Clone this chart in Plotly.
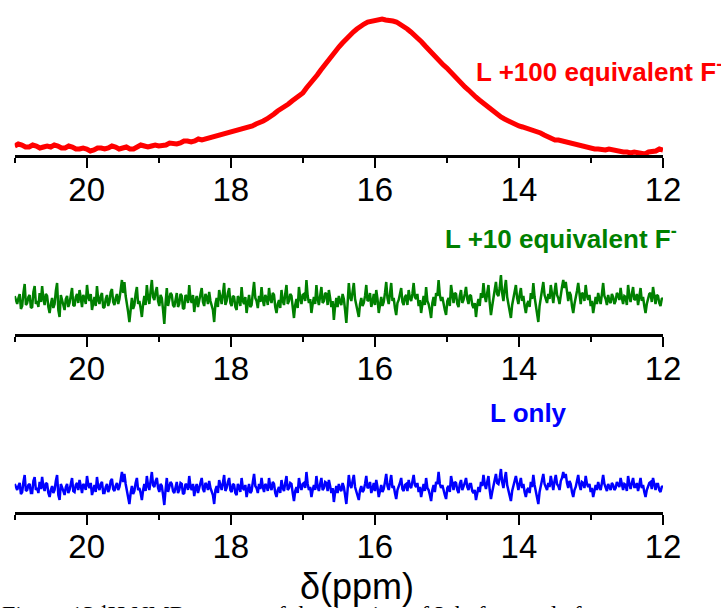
import numpy as np
import plotly.graph_objects as go

W, H = 721, 608

# ---------------- data ----------------
# L + 100 equiv F- : intensity sampled every 0.05 ppm from 21.0 down to 12.0
red_ppm = np.round(np.linspace(21.0, 12.0, 181), 3)
red_int = [9, 11, 10, 8, 8, 10, 9, 7, 8, 9, 8, 10, 9, 7, 7, 9, 8, 6, 6, 7,
           6, 4, 5, 7, 7, 6, 7, 9, 8, 6, 7, 8, 6, 6, 8, 10, 9, 8, 9, 10,
           9, 9, 10, 12, 11, 11, 12, 14, 14, 13, 14, 16, 15, 16, 17, 18, 18, 20, 20, 21,
           22, 24, 24, 25, 27, 28, 29, 31, 32, 34, 36, 38, 41, 44, 46, 49, 51, 54, 57, 59,
           62, 67, 71, 76, 80, 85, 90, 95, 99, 104, 108, 112, 116, 120, 123, 126, 129, 131, 133, 134,
           135, 136, 136, 135, 135, 134, 133, 131, 129, 126, 123, 120, 117, 113, 109, 105, 101, 97, 94, 90,
           87, 83, 79, 76, 72, 68, 65, 61, 58, 55, 52, 49, 46, 43, 41, 38, 36, 34, 32, 30,
           29, 28, 27, 26, 25, 24, 22, 20, 18, 16, 15, 15, 14, 14, 13, 12, 11, 10, 8, 7,
           6, 6, 6, 5, 5, 6, 5, 4, 4, 3, 3, 2, 3, 2, 2, 1, 3, 3, 4, 6,
           5]

# L + 10 equiv F- : noise-only spectrum (521 points from 21 to 12 ppm)
green_int = [38, 33, 30, 36, 40, 25, 28, 41, 50, 29, 31, 37, 39, 26, 27, 42, 48, 30, 33, 27,
             41, 32, 48, 35, 29, 40, 38, 27, 21, 30, 36, 26, 30, 43, 51, 24, 17, 39, 35, 29,
             24, 35, 38, 27, 31, 40, 46, 29, 28, 37, 40, 31, 44, 36, 27, 39, 36, 30, 49, 37,
             33, 40, 24, 31, 37, 28, 48, 34, 30, 38, 41, 26, 27, 35, 39, 28, 32, 42, 45, 32,
             29, 36, 40, 30, 35, 44, 54, 41, 52, 38, 31, 22, 12, 27, 36, 25, 29, 40, 47, 30,
             33, 26, 17, 30, 38, 29, 49, 36, 30, 43, 54, 37, 34, 42, 47, 33, 28, 39, 36, 24,
             10, 31, 46, 28, 34, 41, 39, 29, 27, 36, 41, 27, 30, 40, 38, 25, 26, 39, 37, 31,
             49, 35, 31, 39, 22, 33, 38, 27, 33, 40, 46, 32, 28, 40, 37, 30, 42, 33, 29, 24,
             12, 30, 36, 27, 44, 35, 30, 40, 51, 29, 33, 41, 46, 31, 28, 38, 37, 27, 24, 38,
             35, 28, 47, 33, 30, 37, 21, 31, 39, 27, 29, 41, 52, 36, 33, 26, 38, 32, 47, 34,
             28, 39, 36, 29, 46, 35, 31, 41, 39, 27, 21, 30, 34, 26, 44, 33, 29, 40, 49, 30,
             33, 40, 38, 27, 16, 29, 35, 26, 47, 36, 30, 39, 40, 33, 54, 38, 31, 35, 21, 30,
             37, 30, 49, 35, 29, 38, 47, 31, 33, 41, 40, 29, 44, 36, 27, 33, 14, 28, 36, 27,
             38, 32, 29, 40, 35, 24, 11, 30, 51, 37, 33, 42, 51, 35, 28, 22, 17, 30, 36, 28,
             31, 38, 49, 33, 34, 41, 27, 32, 40, 29, 44, 35, 21, 29, 37, 28, 32, 41, 52, 36,
             30, 40, 51, 33, 36, 26, 19, 31, 34, 40, 46, 32, 29, 37, 39, 29, 44, 36, 33, 40,
             51, 37, 35, 40, 28, 34, 21, 30, 38, 29, 47, 33, 30, 24, 16, 31, 37, 28, 41, 38,
             54, 39, 33, 37, 28, 24, 19, 33, 36, 28, 49, 37, 31, 41, 40, 30, 27, 38, 44, 31,
             34, 40, 47, 35, 30, 39, 38, 29, 26, 31, 17, 29, 35, 28, 41, 36, 51, 38, 32, 41,
             49, 31, 19, 28, 36, 42, 52, 40, 38, 46, 59, 41, 33, 45, 54, 37, 31, 23, 16, 29,
             35, 42, 49, 36, 30, 39, 46, 33, 38, 28, 21, 30, 33, 27, 41, 35, 51, 37, 29, 21,
             12, 28, 37, 44, 52, 39, 34, 31, 40, 35, 49, 38, 31, 42, 51, 39, 36, 30, 42, 47,
             54, 46, 52, 40, 33, 42, 39, 28, 21, 30, 35, 43, 51, 37, 30, 41, 40, 33, 49, 38,
             34, 39, 28, 33, 21, 29, 37, 30, 41, 35, 30, 40, 51, 38, 35, 29, 39, 33, 31, 40,
             37, 30, 33, 41, 39, 34, 46, 36, 30, 38, 37, 29, 49, 38, 32, 40, 47, 34, 35, 40,
             29, 37, 46, 33, 37, 28, 21, 30, 34, 40, 41, 32, 47, 36, 30, 39, 38, 31, 28, 35,
             36]

# L only : noise-only spectrum (521 points from 21 to 12 ppm)
blue_int = [28, 24, 22, 26, 29, 18, 20, 30, 37, 21, 22, 27, 28, 19, 19, 31, 35, 22, 24, 19,
            30, 23, 35, 25, 21, 29, 28, 19, 15, 22, 26, 19, 22, 31, 37, 17, 12, 28, 25, 21,
            17, 25, 28, 19, 22, 29, 34, 21, 20, 27, 29, 22, 32, 26, 19, 28, 26, 22, 36, 27,
            24, 29, 17, 22, 27, 20, 35, 25, 22, 28, 30, 19, 19, 25, 28, 20, 23, 31, 33, 23,
            21, 26, 29, 22, 25, 32, 40, 30, 38, 28, 22, 16, 8, 19, 26, 18, 21, 29, 34, 22,
            24, 19, 12, 22, 28, 21, 36, 26, 22, 31, 40, 27, 25, 31, 34, 24, 20, 28, 26, 17,
            7, 22, 34, 20, 25, 30, 28, 21, 19, 26, 30, 19, 22, 29, 28, 18, 19, 28, 27, 22,
            36, 25, 22, 28, 16, 24, 28, 19, 24, 29, 34, 23, 20, 29, 27, 22, 31, 24, 21, 17,
            8, 22, 26, 19, 32, 25, 22, 29, 37, 21, 24, 30, 34, 22, 20, 28, 27, 19, 17, 28,
            25, 20, 34, 24, 22, 27, 15, 22, 28, 19, 21, 30, 38, 26, 24, 19, 28, 23, 34, 25,
            20, 28, 26, 21, 34, 25, 22, 30, 28, 19, 15, 22, 25, 19, 32, 24, 21, 29, 36, 22,
            24, 29, 28, 19, 11, 21, 25, 19, 34, 26, 22, 28, 29, 24, 40, 28, 22, 25, 15, 22,
            27, 22, 36, 25, 21, 28, 34, 22, 24, 30, 29, 21, 32, 26, 19, 24, 10, 20, 26, 19,
            28, 23, 21, 29, 25, 17, 8, 22, 37, 27, 24, 31, 37, 25, 20, 16, 12, 22, 26, 20,
            22, 28, 36, 24, 25, 30, 19, 23, 29, 21, 32, 25, 15, 21, 27, 20, 23, 30, 38, 26,
            22, 29, 37, 24, 26, 19, 13, 22, 25, 29, 34, 23, 21, 27, 28, 21, 32, 26, 24, 29,
            37, 27, 25, 29, 20, 25, 15, 22, 28, 21, 34, 24, 22, 17, 11, 22, 27, 20, 30, 28,
            40, 28, 24, 27, 20, 17, 13, 24, 26, 20, 36, 27, 22, 30, 29, 22, 19, 28, 32, 22,
            25, 29, 34, 25, 22, 28, 28, 21, 19, 22, 12, 21, 25, 20, 30, 26, 37, 28, 23, 30,
            36, 22, 13, 20, 26, 31, 38, 29, 28, 34, 43, 30, 24, 33, 40, 27, 22, 16, 11, 21,
            25, 31, 36, 26, 22, 28, 34, 24, 28, 20, 15, 22, 24, 19, 30, 25, 37, 27, 21, 15,
            8, 20, 27, 32, 38, 28, 25, 22, 29, 25, 36, 28, 22, 31, 37, 28, 26, 22, 31, 34,
            40, 34, 38, 29, 24, 31, 28, 20, 15, 22, 25, 31, 37, 27, 22, 30, 29, 24, 36, 28,
            25, 28, 20, 24, 15, 21, 27, 22, 30, 25, 22, 29, 37, 28, 25, 21, 28, 24, 22, 29,
            27, 22, 24, 30, 28, 25, 34, 26, 22, 28, 27, 21, 36, 28, 23, 29, 34, 25, 25, 29,
            21, 27, 34, 24, 27, 20, 15, 22, 25, 29, 30, 23, 34, 26, 22, 28, 28, 22, 20, 25,
            26]

noise_ppm = np.linspace(21.0, 12.0, len(green_int))

tick_vals = [20, 18, 16, 14, 12]
tick_text = ["20", "18", "16", "14", "12"]
minor_vals = [21, 19, 17, 15, 13]
labels = ["L +100 equivalent F<sup>-</sup>", "L +10 equivalent F<sup>-</sup>", "L only"]
x_title = "δ(ppm)"
caption = "Figure 13 ¹H NMR spectra of the titration of L before and after"

# ---------------- layout helpers ----------------
def py(p):  # pixel-from-top -> paper y
    return (H - p) / H

def px(p):
    return p / W

x_dom = [px(14.7), px(663)]
panels = [  # (top px, axis px)
    (0, 155),
    (210, 334),
    (390, 512),
]

fig = go.Figure()
fig.add_trace(go.Scatter(x=red_ppm, y=red_int, mode="lines",
                         line=dict(color="#ff0000", width=5), xaxis="x", yaxis="y"))
fig.add_trace(go.Scatter(x=noise_ppm, y=green_int, mode="lines",
                         line=dict(color="#008000", width=2.5), xaxis="x2", yaxis="y2"))
fig.add_trace(go.Scatter(x=noise_ppm, y=blue_int, mode="lines",
                         line=dict(color="#0000ff", width=2.5), xaxis="x3", yaxis="y3"))

font_family = "Liberation Sans, Arial, sans-serif"
layout = dict(
    width=W, height=H, margin=dict(l=0, r=0, t=0, b=0, autoexpand=False),
    paper_bgcolor="white", plot_bgcolor="white", showlegend=False,
)
for k, (top, axis) in enumerate(panels):
    sfx = "" if k == 0 else str(k + 1)
    layout["xaxis" + sfx] = dict(
        domain=x_dom, range=[21, 12], anchor="y" + sfx, automargin=False,
        showline=True, linecolor="black", linewidth=2.5,
        showgrid=False, zeroline=False,
        ticks="outside", ticklen=10, tickwidth=2, tickcolor="black",
        tickvals=tick_vals, ticktext=tick_text, ticklabelstandoff=-6,
        tickfont=dict(family=font_family, size=33, color="black"),
        minor=dict(tickvals=minor_vals, ticks="outside", ticklen=5,
                   tickwidth=2, tickcolor="black", showgrid=False),
    )
    layout["yaxis" + sfx] = dict(
        domain=[py(axis), py(top)], range=[0, axis - top], anchor="x" + sfx,
        visible=False, showgrid=False, zeroline=False, automargin=False,
    )
fig.update_layout(**layout)

label_specs = [
    (labels[0], 474, 70, "#ff0000"),
    (labels[1], 443, 237, "#008000"),
    (labels[2], 488, 413, "#0000ff"),
]
for text, lx, ly, col in label_specs:
    fig.add_annotation(text="<b>" + text + "</b>", xref="paper", yref="paper",
                       x=px(lx), y=py(ly), xanchor="left", yanchor="middle",
                       showarrow=False,
                       font=dict(family=font_family, size=26, color=col))

fig.add_annotation(text=caption, xref="paper", yref="paper",
                   x=px(0), y=py(599), xanchor="left", yanchor="top", showarrow=False,
                   font=dict(family="Liberation Serif, Times New Roman, serif", size=24,
                             color="black"))
fig.add_annotation(text=x_title, xref="paper", yref="paper",
                   x=px(357), y=py(586), xanchor="center", yanchor="middle",
                   showarrow=False,
                   font=dict(family=font_family, size=36, color="black"))

fig.write_html("out.html")
